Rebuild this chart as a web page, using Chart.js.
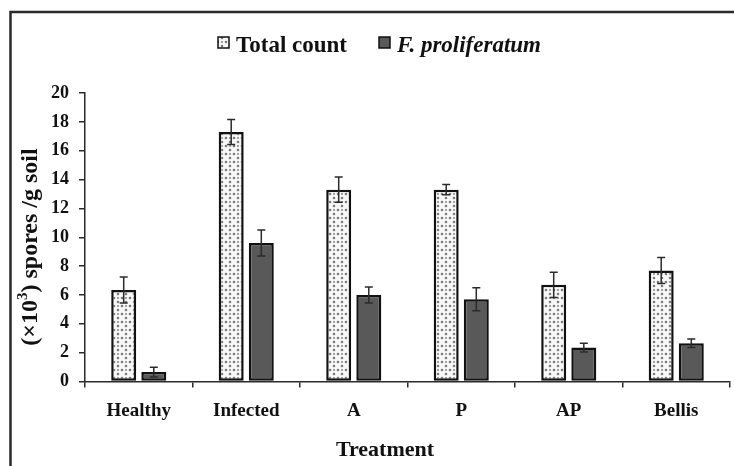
<!DOCTYPE html>
<html>
<head>
<meta charset="utf-8">
<script src="https://cdn.jsdelivr.net/npm/chart.js@4.4.1/dist/chart.umd.min.js"></script>
<style>
  html, body { margin: 0; padding: 0; background: #ffffff; }
  #wrap { position: relative; width: 734px; height: 466px; }
</style>
</head>
<body>
<div id="wrap"><canvas id="chart" width="734" height="466"></canvas></div>
<script>
// Spore counts per treatment, (×10³) spores per gram of soil
const categories = ['Healthy', 'Infected', 'A', 'P', 'AP', 'Bellis'];
const seriesNames = ['Total count', 'F. proliferatum'];
const totalCount = [6.35, 17.3, 13.3, 13.3, 6.7, 7.7];
const totalCountErr = [0.9, 0.87, 0.87, 0.35, 0.88, 0.9];
const fProliferatum = [0.65, 9.6, 6.0, 5.7, 2.35, 2.65];
const fProliferatumErr = [0.33, 0.9, 0.55, 0.8, 0.3, 0.3];
const yTicks = [0, 2, 4, 6, 8, 10, 12, 14, 16, 18, 20];

const SERIF = '"Liberation Serif", "Times New Roman", serif';
const INK = '#2b2b2b';
const DARK_FILL = '#595959';

// Dotted fill used for the total count bars
function makeDotPattern() {
  const tile = document.createElement('canvas');
  tile.width = 8; tile.height = 8;
  const t = tile.getContext('2d');
  t.fillStyle = '#f7f7f7';
  t.fillRect(0, 0, 8, 8);
  t.fillStyle = '#7a7a7a';
  t.beginPath();
  t.arc(2, 2, 1.3, 0, Math.PI * 2);
  t.arc(6, 6, 1.3, 0, Math.PI * 2);
  t.fill();
  t.beginPath();
  t.arc(6, 2, 0.9, 0, Math.PI * 2);
  t.fill();
  return document.getElementById('chart').getContext('2d').createPattern(tile, 'repeat');
}
const dots = makeDotPattern();

const errors = [totalCountErr, fProliferatumErr];

// Standard-error whiskers on each bar
const errorBars = {
  id: 'errorBars',
  afterDatasetsDraw(chart) {
    const ctx = chart.ctx;
    const y = chart.scales.y;
    ctx.save();
    ctx.strokeStyle = INK;
    ctx.lineWidth = 1.5;
    chart.data.datasets.forEach((ds, di) => {
      const meta = chart.getDatasetMeta(di);
      meta.data.forEach((bar, i) => {
        const v = ds.data[i], e = errors[di][i];
        const top = y.getPixelForValue(v + e);
        const bot = y.getPixelForValue(v - e);
        const x = bar.x;
        ctx.beginPath();
        ctx.moveTo(x, top); ctx.lineTo(x, bot);
        ctx.moveTo(x - 4, top); ctx.lineTo(x + 4, top);
        ctx.moveTo(x - 4, bot); ctx.lineTo(x + 4, bot);
        ctx.stroke();
      });
    });
    ctx.restore();
  }
};

// Frame, legend and axis titles
const decorations = {
  id: 'decorations',
  afterDraw(chart) {
    const ctx = chart.ctx;
    ctx.save();
    // frame edges
    ctx.strokeStyle = '#2a2a2a';
    ctx.lineWidth = 2.5;
    ctx.beginPath();
    ctx.moveTo(10.5, 480); ctx.lineTo(10.5, 12); ctx.lineTo(740, 12);
    ctx.stroke();

    // legend
    const fills = [dots, DARK_FILL];
    const fonts = ['bold 23px ' + SERIF, 'italic bold 23px ' + SERIF];
    const boxX = [218, 379];
    ctx.textBaseline = 'alphabetic';
    ctx.textAlign = 'left';
    seriesNames.forEach((name, i) => {
      ctx.fillStyle = fills[i];
      ctx.fillRect(boxX[i], 37, 11, 11);
      ctx.strokeStyle = '#111';
      ctx.lineWidth = 1.5;
      ctx.strokeRect(boxX[i], 37, 11, 11);
      ctx.fillStyle = '#111';
      ctx.font = fonts[i];
      ctx.fillText(name, boxX[i] + 18, 52);
    });

    // x axis title
    ctx.font = 'bold 22px ' + SERIF;
    ctx.textAlign = 'center';
    ctx.textBaseline = 'middle';
    ctx.fillText('Treatment', 385, 450);

    // y axis title with superscript
    ctx.translate(31, 247);
    ctx.rotate(-Math.PI / 2);
    const big = 'bold 24px ' + SERIF, small = 'bold 15px ' + SERIF;
    const parts = [['(×10', big, 0], ['3', small, -8], [') spores /g soil', big, 0]];
    let w = 0;
    parts.forEach(p => { ctx.font = p[1]; w += ctx.measureText(p[0]).width; });
    let x = -w / 2;
    ctx.textAlign = 'left';
    parts.forEach(p => {
      ctx.font = p[1];
      ctx.fillText(p[0], x, p[2]);
      x += ctx.measureText(p[0]).width;
    });
    ctx.restore();
  }
};

new Chart(document.getElementById('chart'), {
  type: 'bar',
  data: {
    labels: categories,
    datasets: [
      {
        label: seriesNames[0],
        data: totalCount,
        backgroundColor: dots,
        borderColor: '#111',
        borderWidth: 2.5,
        borderSkipped: false
      },
      {
        label: seriesNames[1],
        data: fProliferatum,
        backgroundColor: DARK_FILL,
        borderColor: '#111',
        borderWidth: 2.5,
        borderSkipped: false
      }
    ]
  },
  options: {
    responsive: false,
    animation: false,
    events: [],
    layout: { padding: { top: 93, right: 4, left: 0, bottom: 0 } },
    datasets: { bar: { categoryPercentage: 0.56, barPercentage: 0.83 } },
    plugins: { legend: { display: false }, tooltip: { enabled: false } },
    scales: {
      x: {
        grid: { display: true, drawOnChartArea: false, drawTicks: true, tickLength: 6, color: INK, lineWidth: 1.5, offset: true },
        border: { display: true, color: INK, width: 1.5 },
        ticks: { color: '#111', padding: 12, font: { family: SERIF, size: 19, weight: 'bold' } },
        afterFit(scale) { scale.height = 84.5; }
      },
      y: {
        min: 0,
        max: 20,
        afterBuildTicks(scale) { scale.ticks = yTicks.map(v => ({ value: v })); },
        grid: { display: true, drawOnChartArea: false, drawTicks: true, tickLength: 6, color: INK, lineWidth: 1.5 },
        border: { display: true, color: INK, width: 1.5 },
        ticks: { color: '#111', padding: 10, font: { family: SERIF, size: 18, weight: 'bold' } },
        afterFit(scale) { scale.width = 85; }
      }
    }
  },
  plugins: [errorBars, decorations]
});
</script>
</body>
</html>
